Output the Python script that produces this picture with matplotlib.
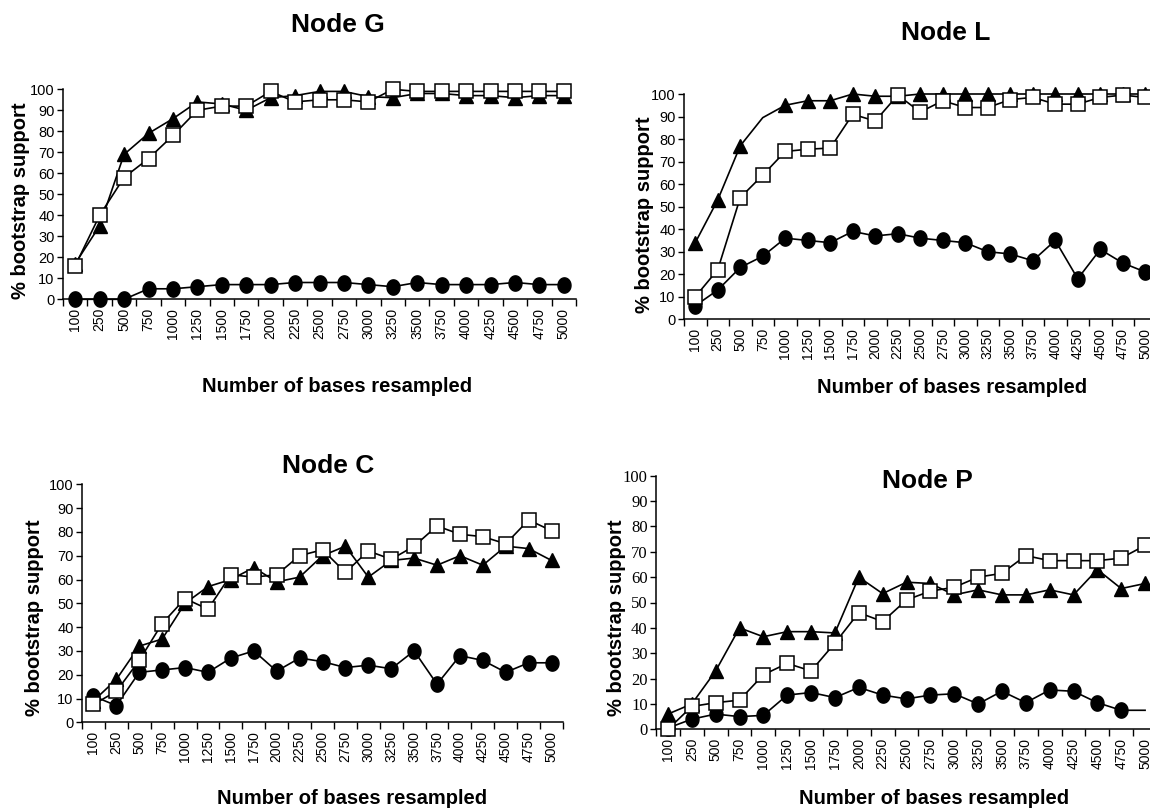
import matplotlib
matplotlib.use("Agg")
import matplotlib.pyplot as plt
from matplotlib.path import Path
import numpy as np

categories = ["100", "250", "500", "750", "1000", "1250", "1500", "1750", "2000", "2250",
              "2500", "2750", "3000", "3250", "3500", "3750", "4000", "4250", "4500", "4750", "5000"]

# Node G
g_tri = [17, 35, 69, 79, 86, 94, 93, 90, 96, 97, 99, 99, 96.5, 96, 98, 98, 97, 97, 96, 97, 97]
g_sq = [16, 40, 58, 67, 78, 90, 92, 92, 99, 94, 95, 95, 94, 100, 99, 99, 99, 99, 99, 99, 99]
g_cir = [0, 0, 0, 5, 5, 6, 7, 7, 7, 8, 8, 8, 7, 6, 8, 7, 7, 7, 8, 7, 7]

# Node L
l_tri = [34, 53, 77, 89.5, 95, 97, 97, 100, 99, 99, 100, 100, 100, 100, 100, 100, 100, 100, 100, 100, 100]
l_sq = [10, 22, 54, 64, 74.5, 75.5, 76, 91, 88, 99.5, 92, 97, 94, 94, 97.5, 98.5, 95.5, 95.5, 98.5, 99.5, 98.5]
l_cir = [6, 13, 23, 28, 36, 35, 34, 39, 37, 38, 36, 35, 34, 30, 29, 26, 35, 18, 31, 25, 21]

# Node C
c_tri = [9, 18, 32, 35, 50, 57, 60, 65, 59, 61, 70, 74, 61, 68, 69, 66, 70, 66, 74, 73, 68]
c_sq = [7.5, 13, 26, 41.5, 52, 47.5, 62, 61, 62, 70, 72.5, 63, 72, 68.5, 74, 82.5, 79, 78, 75, 85, 80.5]
c_cir = [11, 7, 21, 22, 23, 21, 27, 30, 21.5, 27, 25.5, 23, 24, 22.5, 30, 16, 28, 26, 21, 25, 25]

# Node P
p_tri = [6, 10, 23, 40, 36.5, 38.5, 38.5, 38, 60, 53.5, 58, 57.5, 53, 55, 53, 53, 55, 53, 63, 55.5, 57.5]
p_sq = [0, 9, 10.5, 11.5, 21.5, 26, 23, 34, 46, 42.5, 51, 54.5, 56, 60, 61.5, 68.5, 66.5, 66.5, 66.5, 67.5, 72.5]
p_cir = [0.5, 4, 6, 5, 5.5, 13.5, 14.5, 12.5, 16.5, 13.5, 12, 13.5, 14, 10, 15, 10.5, 15.5, 15, 10.5, 7.5, 7.5]

W, H = 1150, 810
fig = plt.figure(figsize=(W / 100, H / 100), dpi=100)
fig.patch.set_facecolor("white")

SANS = "Liberation Sans"
SERIF = "Liberation Serif"

# slightly tall ellipse marker (like the original's dots)
_t = np.linspace(0, 2 * np.pi, 60)
ELLIPSE = Path(np.column_stack([0.85 * np.cos(_t), np.sin(_t)]), closed=True)


def px_rect(left, right, top, bottom):
    return [left / W, 1 - bottom / H, (right - left) / W, (bottom - top) / H]


panels = [
    dict(title="Node G", rect=px_rect(63, 576, 89.3, 299.3), tri=g_tri, sq=g_sq, cir=g_cir,
         title_xy=(338, 25), xlab_xy=(337, 386), ylab_xy=(21, 201), yfont=SANS,
         tri_skip=[], cir_skip=[]),
    dict(title="Node L", rect=px_rect(684, 1156.5, 94, 319.3), tri=l_tri, sq=l_sq, cir=l_cir,
         title_xy=(946, 33), xlab_xy=(952, 388), ylab_xy=(645, 215), yfont=SANS,
         tri_skip=[3], cir_skip=[]),
    dict(title="Node C", rect=px_rect(82, 563, 484.3, 722.3), tri=c_tri, sq=c_sq, cir=c_cir,
         title_xy=(328, 466), xlab_xy=(352, 798), ylab_xy=(35, 618), yfont=SANS,
         tri_skip=[], cir_skip=[]),
    dict(title="Node P", rect=px_rect(656, 1157, 475.7, 729.3), tri=p_tri, sq=p_sq, cir=p_cir,
         title_xy=(927, 481), xlab_xy=(934, 798), ylab_xy=(617, 618), yfont=SERIF,
         tri_skip=[], cir_skip=[20]),
]

x = np.arange(len(categories))
lw = 1.2
for p in panels:
    ax = fig.add_axes(p["rect"])
    n = len(categories)
    cir_every = [i for i in range(n) if i not in p["cir_skip"]]
    tri_every = [i for i in range(n) if i not in p["tri_skip"]]
    ax.plot(x, p["cir"], color="black", lw=lw, marker=ELLIPSE, ms=11, mfc="black", mec="black",
            markevery=cir_every, clip_on=False, zorder=3)
    ax.plot(x, p["tri"], color="black", lw=lw, marker="^", ms=10.5, mfc="black", mec="black",
            markevery=tri_every, clip_on=False, zorder=4)
    ax.plot(x, p["sq"], color="black", lw=lw, marker="s", ms=10, mfc="white", mec="black",
            mew=1.1, clip_on=False, zorder=5)

    ax.set_xlim(-0.5, n - 0.5)
    ax.set_ylim(0, 100)
    ax.set_yticks(np.arange(0, 101, 10))
    ax.set_yticklabels([str(v) for v in range(0, 101, 10)], fontfamily=p["yfont"],
                       fontsize=12 if p["yfont"] == SERIF else 10.5)
    ax.set_xticks(x)
    ax.set_xticklabels(categories, rotation=90, fontfamily=SANS, fontsize=10)
    ax.set_xticks(np.arange(-0.5, n, 1.0), minor=True)
    ax.tick_params(axis="x", which="major", length=0, pad=6)
    ax.tick_params(axis="x", which="minor", length=5, width=1, direction="out")
    ax.tick_params(axis="y", which="major", length=4, width=1, direction="out", pad=2)
    for s in ["top", "right"]:
        ax.spines[s].set_visible(False)
    for s in ["left", "bottom"]:
        ax.spines[s].set_linewidth(1.1)
    ax.patch.set_alpha(0)

    fig.text(p["title_xy"][0] / W, 1 - p["title_xy"][1] / H, p["title"], ha="center", va="center",
             fontsize=19, fontweight="bold", fontfamily=SANS)
    fig.text(p["xlab_xy"][0] / W, 1 - p["xlab_xy"][1] / H, "Number of bases resampled",
             ha="center", va="center", fontsize=14.5, fontweight="bold", fontfamily=SANS)
    fig.text(p["ylab_xy"][0] / W, 1 - p["ylab_xy"][1] / H, "% bootstrap support",
             ha="center", va="center", rotation=90, fontsize=14.5, fontweight="bold", fontfamily=SANS)

fig.savefig("out.png", dpi=100, facecolor="white")
